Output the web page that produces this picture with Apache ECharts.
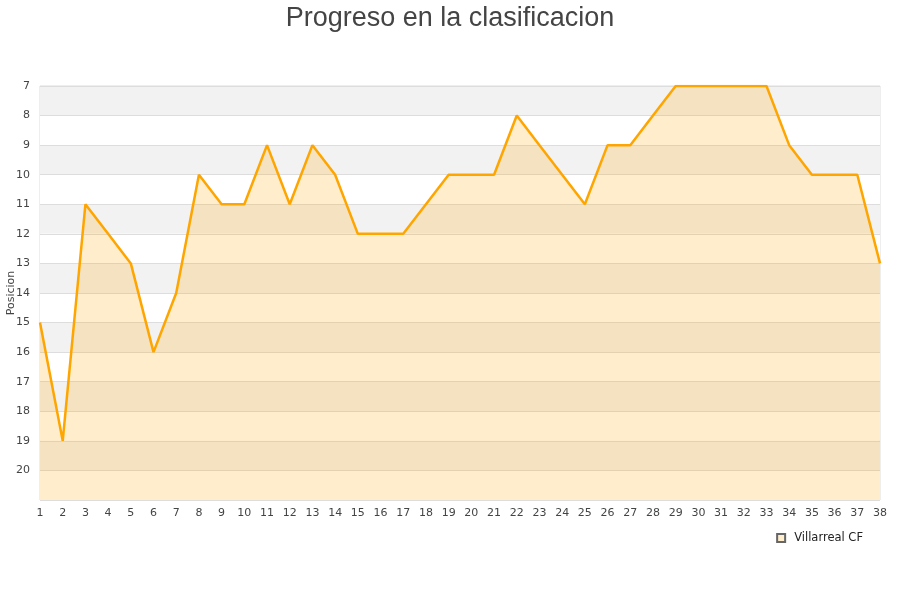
<!DOCTYPE html>
<html><head><meta charset="utf-8">
<script src="https://cdn.jsdelivr.net/npm/echarts@6/dist/echarts.min.js"></script>
<style>html,body{margin:0;padding:0;background:#fff}#c{width:900px;height:600px}</style>
</head><body><div id="c"></div>
<script>
var jornadas = [];
for (var i = 1; i <= 38; i++) jornadas.push(String(i));
var posiciones = [15,19,11,12,13,16,14,10,11,11,9,11,9,10,12,12,12,11,10,10,10,8,9,10,11,9,9,8,7,7,7,7,7,9,10,10,10,13];
var equipo = 'Villarreal CF';
var chart = echarts.init(document.getElementById('c'));
chart.setOption({
  animation: false,
  title: { text: 'Progreso en la clasificacion', left: 'center', top: 0,
    textStyle: { fontFamily: 'Liberation Sans', fontSize: 27, fontWeight: 'normal', color: '#444' } },
  grid: { left: 40, right: 20, top: 86, bottom: 100, containLabel: false, outerBoundsMode: 'none',
    show: true, borderColor: '#ddd', borderWidth: 1, backgroundColor: 'transparent' },
  legend: { data: [{name: equipo, icon: 'rect'}], right: 32, top: 527, itemWidth: 8, itemHeight: 8, itemGap: 8,
    textStyle: { fontFamily: 'DejaVu Sans', fontSize: 11.5, color: '#222', padding: [0, 0, 0, 4] } },
  xAxis: { type: 'category', data: jornadas, boundaryGap: false,
    axisLine: { show: false }, axisTick: { show: false },
    axisLabel: { fontFamily: 'DejaVu Sans', fontSize: 11, color: '#444', margin: 8, interval: 0 },
    splitLine: { show: false } },
  yAxis: { type: 'value', inverse: true, min: 7, max: 21, interval: 1,
    name: 'Posicion', nameLocation: 'middle', nameGap: 23, nameRotate: 90, nameMoveOverlap: false,
    nameTextStyle: { fontFamily: 'DejaVu Sans', fontSize: 11, color: '#444' },
    axisLine: { show: false }, axisTick: { show: false },
    axisLabel: { fontFamily: 'DejaVu Sans', fontSize: 11, color: '#444', margin: 10,
      formatter: function(v){ return v > 20 ? '' : String(v); } },
    splitLine: { show: true, lineStyle: { color: '#ddd', width: 1 } },
    splitArea: { show: true, areaStyle: { color: ['#f2f2f2', '#ffffff'] } } },
  series: [{ name: equipo, type: 'line', data: posiciones, symbol: 'none',
    itemStyle: { color: '#ffedcc', borderColor: '#666', borderWidth: 1 },
    lineStyle: { color: '#ffa500', width: 2.5 },
    areaStyle: { color: 'rgba(255,165,0,0.2)', opacity: 1, origin: 'end' } }]
});
</script></body></html>
